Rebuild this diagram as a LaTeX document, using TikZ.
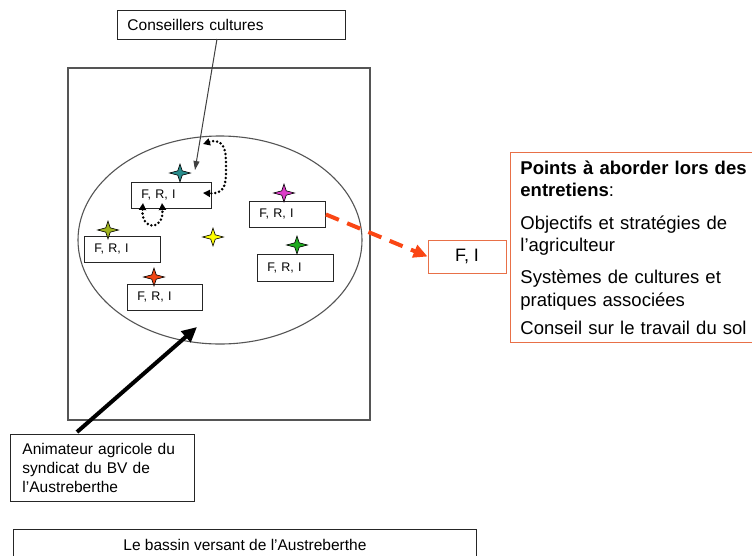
\documentclass[tikz,border=0pt]{standalone}
\usepackage{fontspec}
\setmainfont{Liberation Sans}
\usetikzlibrary{arrows.meta}
\definecolor{framegray}{RGB}{85,85,85}
\definecolor{orangebox}{RGB}{232,112,72}
\definecolor{redarrow}{RGB}{250,70,20}
\definecolor{steal}{RGB}{40,140,140}
\definecolor{smagenta}{RGB}{220,60,200}
\definecolor{sgreen}{RGB}{30,170,30}
\definecolor{syellow}{RGB}{255,255,0}
\definecolor{solive}{RGB}{160,180,30}
\definecolor{sred}{RGB}{240,70,20}
\newcommand{\fstar}[3]{\filldraw[fill=#3, draw=black, line width=0.6pt] (#1,#2) +(0,-9) -- +(2.2,-2.2) -- +(10.5,0) -- +(2.2,2.2) -- +(0,9) -- +(-2.2,2.2) -- +(-10.5,0) -- +(-2.2,-2.2) -- cycle;}
\begin{document}
\begin{tikzpicture}[x=1pt,y=-1pt,
  box/.style={draw=black!85, line width=0.9pt, anchor=north west, align=left, inner ysep=0pt},
  fri/.style={box, inner xsep=10pt, minimum height=26pt, font=\fontsize{12.5}{15}\selectfont},
  dotarrow/.style={line width=2.8pt, line cap=round, dash pattern=on 0pt off 4pt, {Triangle[length=7pt,width=7pt]}-{Triangle[length=7pt,width=7pt]}}
]
\useasboundingbox (0,0) rectangle (752,555);
\fill[white] (0,0) rectangle (752,555);

% frame and ellipse
\draw[framegray, line width=1.1pt] (68,68) rectangle (370,420);
\draw[framegray, line width=1.1pt] (220,240) ellipse [x radius=142, y radius=104];

% top box
\node (cons) [box, inner xsep=10pt, text width=208pt, minimum height=29pt, font=\fontsize{15.5}{19}\selectfont] at (117,10) {Conseillers cultures};

% F,R,I boxes
\node (b1) [fri, text width=60pt] at (131,182) {F, R, I};
\node (b2) [fri, text width=56pt] at (249,201) {F, R, I};
\node (b3) [fri, text width=56pt, minimum height=27pt] at (257,254) {F, R, I};
\node (b4) [fri, text width=56pt] at (84,236) {F, R, I};
\node (b5) [fri, text width=55pt] at (127,284) {F, R, I};

% stars
\fstar{180}{173}{steal}
\fstar{284}{193}{smagenta}
\fstar{297}{245}{sgreen}
\fstar{213}{237}{syellow}
\fstar{108}{230}{solive}
\fstar{154}{277}{sred}

% F, I box
\node (fi) [box, draw=orangebox, anchor=center, minimum width=78pt, minimum height=33pt, align=center, font=\fontsize{18}{22}\selectfont] at (467,256.5) {F, I};

% points box
\node (pts) [box, draw=orangebox, inner xsep=10pt, text width=270pt, minimum height=190pt, font=\fontsize{18.5}{22.5}\selectfont] at (510,152)
{\textbf{Points à aborder lors des}\\ \textbf{entretiens}:\\[10pt]
Objectifs et stratégies de\\ l’agriculteur\\[9.5pt]
Systèmes de cultures et\\ pratiques associées\\[5.5pt]
Conseil sur le travail du sol};

% animateur box
\node (anim) [box, inner xsep=12pt, text width=160pt, minimum height=67pt, font=\fontsize{15.5}{19}\selectfont] at (10,434)
{Animateur agricole du\\ syndicat du BV de\\ l'Austreberthe};

% bottom box
\node (bv) [box, inner xsep=0pt, minimum width=463pt, text height=21pt, text depth=30pt, align=center, font=\fontsize{15.5}{19}\selectfont] at (13,529) {Le bassin versant de l'Austreberthe};

% connectors
\coordinate (consfoot) at (217,39);
\coordinate (constip) at (195,170);
\draw[black!75, line width=1pt, -{Triangle[length=9pt,width=6pt]}] (consfoot) -- (constip);

\coordinate (astart) at (77,432);
\coordinate (atip) at (197,327);
\draw[black, line width=4pt, -{Triangle[length=15pt,width=14pt]}] (astart) -- (atip);

\draw[redarrow, line width=4pt, dash pattern=on 14pt off 9pt, -{Triangle[length=14pt,width=13pt]}] (b2.east) -- (fi.west);

% dotted loops
\coordinate (l1a) at (203,144);
\coordinate (l1b) at (203,193);
\draw[dotarrow] (l1a) .. controls (228,136) and (226,160) .. (226,172) .. controls (226,188) and (222,194) .. (l1b);
\coordinate (l2a) at (143,203);
\coordinate (l2b) at (162,203);
\draw[dotarrow] (l2a) .. controls (141,231) and (164,231) .. (l2b);
\end{tikzpicture}
\end{document}
